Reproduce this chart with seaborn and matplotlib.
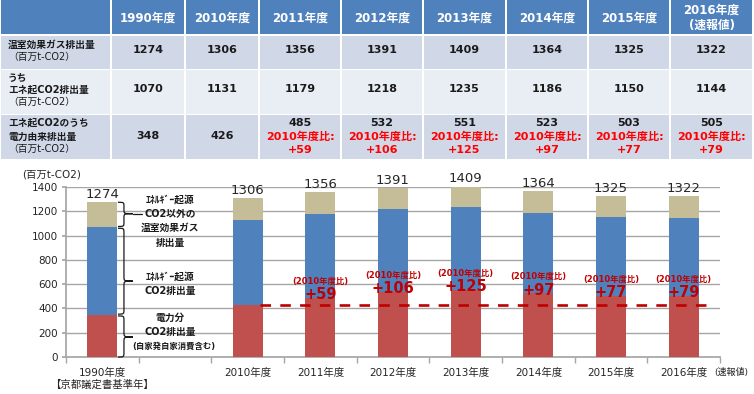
import numpy as np
import pandas as pd
import matplotlib
matplotlib.use("Agg")
import matplotlib.pyplot as plt
import seaborn as sns
from matplotlib.path import Path
from matplotlib.patches import PathPatch, Rectangle

# ---------------- data ----------------
years = ["1990年度", "2010年度", "2011年度", "2012年度", "2013年度",
         "2014年度", "2015年度", "2016年度"]
header_labels = ["1990年度", "2010年度", "2011年度", "2012年度", "2013年度",
                 "2014年度", "2015年度", "2016年度\n(速報値)"]
total_ghg = [1274, 1306, 1356, 1391, 1409, 1364, 1325, 1322]
energy_co2 = [1070, 1131, 1179, 1218, 1235, 1186, 1150, 1144]
power_co2 = [348, 426, 485, 532, 551, 523, 503, 505]
diff_vs_2010 = [None, None, 59, 106, 125, 97, 77, 79]
row_labels = [["温室効果ガス排出量", "（百万t-CO2）"],
              ["うち", "エネ起CO2排出量", "（百万t-CO2）"],
              ["エネ起CO2のうち", "電力由来排出量", "（百万t-CO2）"]]
x_order = ["1990年度", " ", "2010年度", "2011年度", "2012年度", "2013年度",
           "2014年度", "2015年度", "2016年度"]
y_ticks = [0, 200, 400, 600, 800, 1000, 1200, 1400]

C_TAN = "#C4BD97"
C_BLUE = "#4F81BD"
C_RED = "#C0504D"
C_DRED = "#C00000"
C_GRID = "#A6A6A6"

sns.set_theme(style="white")
plt.rcParams["font.family"] = ["DejaVu Sans", "Noto Sans CJK JP"]
FAM = ["DejaVu Sans", "Noto Sans CJK JP"]

fig = plt.figure(figsize=(7.54, 3.94), dpi=100)

# ---------------- table (background axes in pixel units) ----------------
bg = fig.add_axes([0, 0, 1, 1])
bg.set_xlim(0, 754)
bg.set_ylim(394, 0)
bg.axis("off")

col_edges = [0, 111, 185, 259, 341, 423, 506, 588, 670, 753]
row_edges = [(0, 34), (35.5, 68.5), (70, 113.5), (115, 158.5)]
row_colors = ["#4F81BD", "#D0D8E8", "#E9EDF4", "#D0D8E8"]
for r, (y0, y1) in enumerate(row_edges):
    for c in range(len(col_edges) - 1):
        x0, x1 = col_edges[c], col_edges[c + 1]
        bg.add_patch(Rectangle((x0 + 0.75, y0), x1 - x0 - 1.5, y1 - y0,
                               facecolor=row_colors[r], edgecolor="none"))

col_centers = [(col_edges[i + 1] + col_edges[i]) / 2 for i in range(1, 9)]
TXT = "#1A1A1A"
for i, h in enumerate(header_labels):
    bg.text(col_centers[i], 18, h, ha="center", va="center", color="white",
            fontsize=8.5, fontweight="bold", linespacing=1.25, family=FAM)

label_ys = [[45, 57], [78, 90, 102], [123, 137, 149]]
for r, lines in enumerate(row_labels):
    for j, t in enumerate(lines):
        bold = not t.startswith("（")
        bg.text(8, label_ys[r][j], t, ha="left", va="center", color=TXT,
                fontsize=7, fontweight="bold" if bold else "normal", family=FAM)

for i in range(len(years)):
    bg.text(col_centers[i], 50, str(total_ghg[i]), ha="center", va="center",
            color=TXT, fontsize=8, fontweight="bold", family=FAM)
    bg.text(col_centers[i], 89, str(energy_co2[i]), ha="center", va="center",
            color=TXT, fontsize=8, fontweight="bold", family=FAM)
    if diff_vs_2010[i] is None:
        bg.text(col_centers[i], 136, str(power_co2[i]), ha="center", va="center",
                color=TXT, fontsize=8, fontweight="bold", family=FAM)
    else:
        bg.text(col_centers[i], 123, str(power_co2[i]), ha="center", va="center",
                color=TXT, fontsize=8, fontweight="bold", family=FAM)
        bg.text(col_centers[i], 137, "2010年度比:", ha="center", va="center",
                color="#FF0000", fontsize=8, fontweight="bold", family=FAM)
        bg.text(col_centers[i], 150, f"+{diff_vs_2010[i]}", ha="center", va="center",
                color="#FF0000", fontsize=8, fontweight="bold", family=FAM)

# ---------------- chart ----------------
ax = fig.add_axes([66 / 754, 1 - 357 / 394, 654 / 754, 170 / 394])
df = pd.DataFrame({"year": years, "total": total_ghg,
                   "energy": energy_co2, "power": power_co2})
for col, colr in [("total", C_TAN), ("energy", C_BLUE), ("power", C_RED)]:
    sns.barplot(data=df, x="year", y=col, order=x_order, color=colr,
                width=0.41, saturation=1, ax=ax, zorder=3,
                edgecolor="none", linewidth=0)

ax.set_xlim(-0.5, 8.5)
ax.set_ylim(0, 1400)
ax.set_yticks(y_ticks)
ax.set_yticklabels([str(v) for v in y_ticks], fontsize=7.5, color="#262626")
for v in y_ticks[1:]:
    ax.axhline(v, color=C_GRID, lw=1.0, zorder=1)
ax.set_xlabel("")
ax.set_ylabel("")
for s in ["top", "right"]:
    ax.spines[s].set_visible(False)
ax.spines["left"].set_color(C_GRID)
ax.spines["bottom"].set_color(C_GRID)
ax.tick_params(axis="y", length=3, color=C_GRID, pad=3, left=True)

xt_labels = ["1990年度\n【京都議定書基準年】" if t == "1990年度" else t.strip() for t in x_order]
ax.set_xticks(range(len(x_order)))
ax.set_xticklabels(xt_labels, fontsize=7.5, color="#262626", linespacing=1.15)
ax.tick_params(axis="x", which="major", length=0, pad=8)
ax.set_xticks(np.arange(-0.5, len(x_order), 1), minor=True)
ax.tick_params(axis="x", which="minor", length=4, color=C_GRID, bottom=True)

pos = {t: i for i, t in enumerate(x_order)}
for i, y in enumerate(years):
    p = pos[y]
    ax.annotate(str(total_ghg[i]), (p, total_ghg[i]), xytext=(0, 1),
                textcoords="offset points", ha="center", va="bottom",
                fontsize=9.5, color="#262626", annotation_clip=False)
    if diff_vs_2010[i] is not None:
        ax.annotate(f"+{diff_vs_2010[i]}", (p, power_co2[i]), xytext=(0, 2.5),
                    textcoords="offset points", ha="center", va="center",
                    fontsize=10.5, fontweight="bold", color=C_DRED, zorder=6)
        ax.annotate("(2010年度比)", (p, power_co2[i]), xytext=(0, 12),
                    textcoords="offset points", ha="center", va="center",
                    fontsize=6, fontweight="bold", color=C_DRED, zorder=6,
                    family=FAM)

# dashed reference line at 2010 level
ref = power_co2[1]
ax.plot([pos["2010年度"] + 0.17, 8.39], [ref, ref], color=C_DRED, lw=1.9,
        ls=(0, (4.0, 3.5)), zorder=5, solid_capstyle="butt")

# "(速報値)" note next to 2016
ax.annotate("(速報値)", (pos["2016年度"], 0), xytext=(34, -11),
            textcoords="offset points", ha="center", va="center",
            fontsize=6.5, color="#262626", annotation_clip=False, family=FAM)

# braces + explanation texts in the blank slot
def brace(ax, x_left, x_tip, y_top, y_bot, y_tip, r=40, x_ext=None):
    xm = (x_left + x_tip) / 2 - 0.02
    verts = [
        (x_left, y_top), (xm, y_top), (xm, y_top), (xm, y_top - r),
        (xm, y_tip + r),
        (xm, y_tip), (xm, y_tip), (x_tip, y_tip),
        (xm, y_tip), (xm, y_tip), (xm, y_tip - r),
        (xm, y_bot + r),
        (xm, y_bot), (xm, y_bot), (x_left, y_bot),
    ]
    codes = [Path.MOVETO, Path.CURVE4, Path.CURVE4, Path.CURVE4,
             Path.LINETO,
             Path.CURVE4, Path.CURVE4, Path.CURVE4,
             Path.CURVE4, Path.CURVE4, Path.CURVE4,
             Path.LINETO,
             Path.CURVE4, Path.CURVE4, Path.CURVE4]
    ax.add_patch(PathPatch(Path(verts, codes), fill=False, lw=0.9,
                           edgecolor="#1A1A1A", zorder=4, clip_on=False))
    if x_ext is not None:
        ax.plot([x_tip, x_ext], [y_tip, y_tip], color="#1A1A1A", lw=0.9, zorder=4)

bx0, bx1 = 0.215, 0.42
brace(ax, bx0, bx1, total_ghg[0], energy_co2[0] + 5, 1180, r=35, x_ext=0.54)
brace(ax, bx0, bx1, energy_co2[0] - 10, power_co2[0] + 5, 625)
brace(ax, bx0, bx1, power_co2[0] - 10, 0, 165)

tx = 0.93
ax.text(tx, 1120, "ｴﾈﾙｷﾞｰ起源\nCO2以外の\n温室効果ガス\n排出量", ha="center",
        va="center", fontsize=7, fontweight="bold", color="#1A1A1A",
        linespacing=1.55, family=FAM, zorder=6)
ax.text(tx, 605, "ｴﾈﾙｷﾞｰ起源\nCO2排出量", ha="center", va="center",
        fontsize=7, fontweight="bold", color="#1A1A1A", linespacing=1.5,
        family=FAM, zorder=6)
ax.text(tx, 263, "電力分\nCO2排出量", ha="center", va="center",
        fontsize=7, fontweight="bold", color="#1A1A1A", linespacing=1.5,
        family=FAM, zorder=6)
ax.text(tx + 0.05, 88, "(自家発自家消費含む)", ha="center", va="center",
        fontsize=6, fontweight="bold", color="#1A1A1A", family=FAM, zorder=6)

# y unit label
fig.text(22 / 754, 1 - 175 / 394, "(百万t-CO2)", ha="left", va="center",
         fontsize=7.5, color="#262626", family=FAM)

fig.savefig("out.png", dpi=100)
